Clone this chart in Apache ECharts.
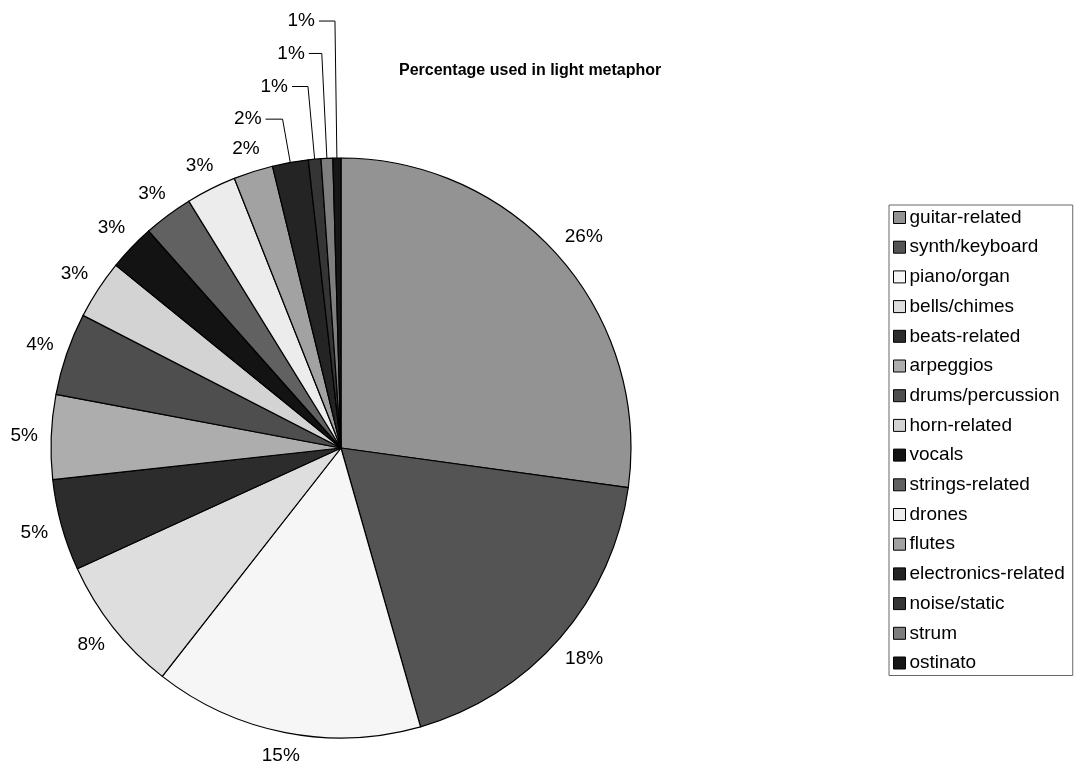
<!DOCTYPE html>
<html lang="en">
<head>
    <meta charset="UTF-8">
    <title>Percentage used in light metaphor</title>
    <script src="https://cdn.jsdelivr.net/npm/echarts@6/dist/echarts.min.js"></script>
    <style>
        html, body { margin: 0; padding: 0; background: #fff; }
        #main { width: 1079px; height: 764px; }
    </style>
</head>
<body>
    <div id="main"></div>
    <script>
        // slice names, clockwise from 12 o'clock
        var categories = ['guitar-related', 'synth/keyboard', 'piano/organ', 'bells/chimes', 'beats-related',
            'arpeggios', 'drums/percussion', 'horn-related', 'vocals', 'strings-related', 'drones', 'flutes',
            'electronics-related', 'noise/static', 'strum', 'ostinato'];
        // share of each slice
        var shares = [27.2, 18.4, 15.0, 7.6, 5.1, 4.7, 4.6, 3.3, 2.6, 2.75, 2.8, 2.2, 2.0, 0.7, 0.65, 0.45];
        // percentages printed beside the slices
        var pctLabels = ['26%', '18%', '15%', '8%', '5%', '5%', '4%', '3%', '3%', '3%', '3%', '2%', '2%', '1%', '1%', '1%'];

        // grey fills (the scan uses dither patterns, these are their average tones)
        var fills = ['#939393', '#545454', '#f6f6f6', '#dedede', '#2c2c2c', '#adadad', '#4e4e4e', '#d3d3d3',
            '#131313', '#616161', '#ececec', '#a2a2a2', '#242424', '#353535', '#7e7e7e', '#161616'];

        // the thin top slices get an elbow leader line: [first segment, second segment]
        var leaders = { 12: [44, 17], 13: [73, 16], 14: [105, 13], 15: [137, 16] };

        var cx = 341, cy = 448, pieR = 290;

        // mid angle of every slice, degrees clockwise from the top
        var total = shares.reduce(function (a, b) { return a + b; }, 0);
        var midAngles = [];
        var acc = 0;
        shares.forEach(function (v) {
            midAngles.push((acc + v / 2) / total * 360);
            acc += v;
        });

        var chart = echarts.init(document.getElementById('main'));

        var pieData = categories.map(function (name, i) {
            var item = {
                name: name,
                value: shares[i],
                itemStyle: { color: fills[i] }
            };
            if (leaders[i]) {
                item.labelLine = {
                    show: true,
                    length: leaders[i][0],
                    length2: leaders[i][1],
                    lineStyle: { color: '#000', width: 1 }
                };
            }
            return item;
        });

        chart.setOption({
            backgroundColor: '#fff',
            animation: false,
            title: {
                text: 'Percentage used in light metaphor',
                left: 399,
                top: 63,
                padding: 0,
                textStyle: {
                    fontFamily: 'Liberation Sans',
                    fontWeight: 'bold',
                    fontSize: 16,
                    color: '#000'
                }
            },
            legend: {
                orient: 'vertical',
                left: 889,
                top: 205,
                padding: [3, 8, 3, 4],
                itemGap: 10.7,
                itemWidth: 12,
                itemHeight: 12,
                itemStyle: { borderColor: '#000', borderWidth: 1 },
                borderColor: '#666',
                borderWidth: 1,
                backgroundColor: '#fff',
                selectedMode: false,
                icon: 'rect',
                textStyle: {
                    fontFamily: 'Liberation Sans',
                    fontSize: 19,
                    lineHeight: 19,
                    color: '#000',
                    padding: [0, 0, 0, -1]
                },
                data: categories
            },
            series: [{
                type: 'pie',
                center: [cx, cy],
                radius: pieR,
                startAngle: 90,
                clockwise: true,
                avoidLabelOverlap: false,
                itemStyle: { borderColor: '#000', borderWidth: 1.2 },
                emphasis: { disabled: true },
                label: {
                    show: true,
                    position: 'outside',
                    color: '#000',
                    fontFamily: 'Liberation Sans',
                    fontSize: 19,
                    distanceToLabelLine: 4,
                    formatter: function (p) { return pctLabels[p.dataIndex]; }
                },
                labelLine: { show: false, length: 12, length2: 0 },
                labelLayout: function (params) {
                    var i = params.dataIndex;
                    if (leaders[i]) return {};
                    // put the label box just outside the rim, on the slice's mid angle
                    var a = midAngles[i] * Math.PI / 180;
                    var ux = Math.sin(a), uy = -Math.cos(a);
                    var w = params.labelRect.width, h = params.labelRect.height * 0.75;
                    var d = pieR + 13 + Math.abs(ux) * w / 2 + Math.abs(uy) * h / 2;
                    return {
                        x: cx + ux * d,
                        y: cy + uy * d,
                        align: 'center',
                        verticalAlign: 'middle'
                    };
                },
                data: pieData
            }]
        });
    </script>
</body>
</html>
